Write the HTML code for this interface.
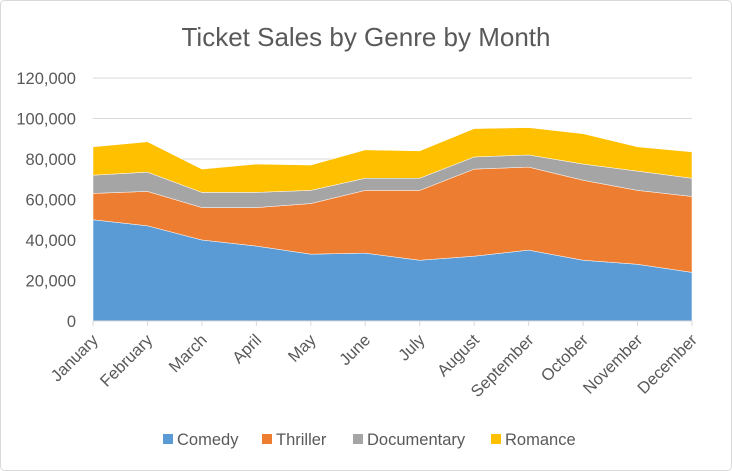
<!DOCTYPE html>
<html><head><meta charset="utf-8"><style>
body{margin:0;background:#fff;}
#wrap{width:732px;height:471px;position:relative;overflow:hidden;}
text{font-family:"Liberation Sans",sans-serif;}
</style></head><body>
<div id="wrap">
<svg id="chart" width="732" height="471">
<rect x="0.5" y="0.5" width="731" height="470" rx="4" fill="#fff" stroke="#d9d9d9"/>
<text x="366" y="46" text-anchor="middle" font-size="26" fill="#595959">Ticket Sales by Genre by Month</text>
</svg>
</div>
<script>
const months=["January","February","March","April","May","June","July","August","September","October","November","December"];
const comedy=[50000,47000,40000,37000,33000,33500,30000,32000,35000,30000,28000,24000];
const thriller=[13000,17000,16000,19000,25000,31000,34500,43000,41000,39500,36500,37500];
const documentary=[9000,9500,7500,7500,6500,6000,6000,6000,6000,8000,9500,9000];
const romance=[14000,15000,11500,14000,12500,14000,13500,14000,13500,15000,12000,13000];
const yTicks=[0,20000,40000,60000,80000,100000,120000];
const seriesNames=["Comedy","Thriller","Documentary","Romance"];
const colors=["#5b9bd5","#ed7d31","#a5a5a5","#ffc000"];
const svg=document.getElementById('chart');
const NS="http://www.w3.org/2000/svg";
const x0=93,x1=692,y0=321,y1=78,ymax=120000;
const xs=i=>x0+i*(x1-x0)/(months.length-1);
const ys=v=>y0-v/ymax*(y0-y1);
function mk(t,a){const e=document.createElementNS(NS,t);for(const k in a)e.setAttribute(k,a[k]);svg.appendChild(e);return e;}
yTicks.forEach(v=>{
  if(v>0){const g=mk('line',{x1:x0,x2:x1,y1:ys(v),y2:ys(v),stroke:'#d9d9d9'});
  
  }
  const t=mk('text',{x:76,y:ys(v)+6,'text-anchor':'end','font-size':16.5,fill:'#595959'});
  t.textContent=v.toLocaleString('en-US');
  
  
});
const data=[comedy,thriller,documentary,romance];
let base=months.map(()=>0);
data.forEach((s,k)=>{
  const top=s.map((v,i)=>base[i]+v);
  let d='';
  top.forEach((v,i)=>{d+=(i?'L':'M')+xs(i)+','+ys(v);});
  for(let i=months.length-1;i>=0;i--)d+='L'+xs(i)+','+ys(base[i]);
  const p=mk('path',{d:d+'Z',fill:colors[k],stroke:'#fff','stroke-width':0.5});
  
  
  base=top;
});
const ax=mk('line',{x1:x0,x2:x1,y1:y0,y2:y0,stroke:'#d9d9d9'});


months.forEach((m,i)=>{
  const tk=mk('line',{x1:xs(i),x2:xs(i),y1:y0,y2:y0+5,stroke:'#d9d9d9'});
  
  
  const t=mk('text',{x:0,y:0,'text-anchor':'end','font-size':16.5,fill:'#595959',transform:`translate(${xs(i)+6},${y0+20}) rotate(-45)`});
  t.textContent=m;
  
  
});
const lx=[163,262,353,491];
seriesNames.forEach((n,k)=>{
  const r=mk('rect',{x:lx[k],y:434,width:10,height:10,fill:colors[k]});
  
  
  const t=mk('text',{x:lx[k]+14,y:445,'font-size':16.5,fill:'#595959'});
  t.textContent=n;
  
  
});
</script>
</body></html>
